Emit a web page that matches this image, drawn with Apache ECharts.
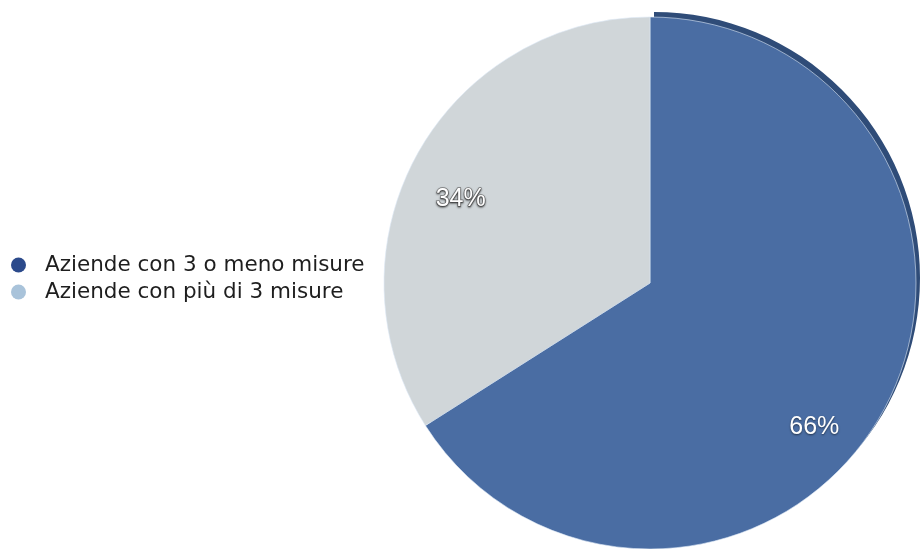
<!DOCTYPE html>
<html>
<head>
<meta charset="utf-8">
<script src="https://cdn.jsdelivr.net/npm/echarts@6/dist/echarts.min.js"></script>
<style>
html,body{margin:0;padding:0;background:#fff;}
#chart{width:920px;height:549px;}
</style>
</head>
<body>
<div id="chart"></div>
<script>
const categories = ['Aziende con 3 o meno misure', 'Aziende con più di 3 misure'];
const values = [66, 34];
const sliceColors = ['#4a6da3', '#d0d6d9'];
const legendColors = ['#2b4a8b', '#a9c3da'];

const chart = echarts.init(document.getElementById('chart'));
const center = [650, 283];
const R = 266;

const mainData = categories.map((c, i) => ({ name: c, value: values[i], itemStyle: { color: sliceColors[i] } }));
const rimData = categories.map((c, i) => ({ name: c, value: values[i], itemStyle: { color: i === 0 ? '#2f4c78' : 'rgba(0,0,0,0)' } }));
const labelData = categories.map((c, i) => ({
  name: c, value: values[i],
  itemStyle: { color: 'rgba(0,0,0,0)' },
  label: i === 0 ? { offset: [-25, 40] } : { offset: [0, 20], textBorderColor: 'rgba(90,90,90,0.7)', textBorderWidth: 1.5 }
}));

chart.setOption({
  animation: false,
  legend: {
    orient: 'vertical',
    left: 11,
    top: 254,
    padding: 0,
    itemGap: 5,
    itemWidth: 15,
    itemHeight: 15,
    icon: 'circle',
    selectedMode: false,
    textStyle: { fontFamily: 'DejaVu Sans', fontSize: 21.5, color: '#1e1e1e', padding: [0, 0, 0, 14] },
    data: categories.map((c, i) => ({ name: c, itemStyle: { color: legendColors[i] } }))
  },
  series: [
    {
      type: 'pie', silent: true, center: [center[0] + 4, center[1] - 5], radius: R,
      startAngle: 90, clockwise: true, label: { show: false }, labelLine: { show: false },
      data: rimData
    },
    {
      type: 'pie', silent: true, center: center, radius: R,
      startAngle: 90, clockwise: true, label: { show: false }, labelLine: { show: false },
      itemStyle: { borderColor: 'rgba(220,232,245,0.6)', borderWidth: 1 },
      data: mainData
    },
    {
      type: 'pie', silent: true, center: center, radius: [160, R],
      startAngle: 90, clockwise: true, labelLine: { show: false },
      label: {
        show: true, position: 'inside', formatter: '{c}%',
        fontFamily: 'Liberation Sans', fontSize: 25, color: '#ffffff',
        textShadowColor: 'rgba(0,0,0,0.55)', textShadowBlur: 2, textShadowOffsetY: 1
      },
      data: labelData
    }
  ]
});
</script>
</body>
</html>
